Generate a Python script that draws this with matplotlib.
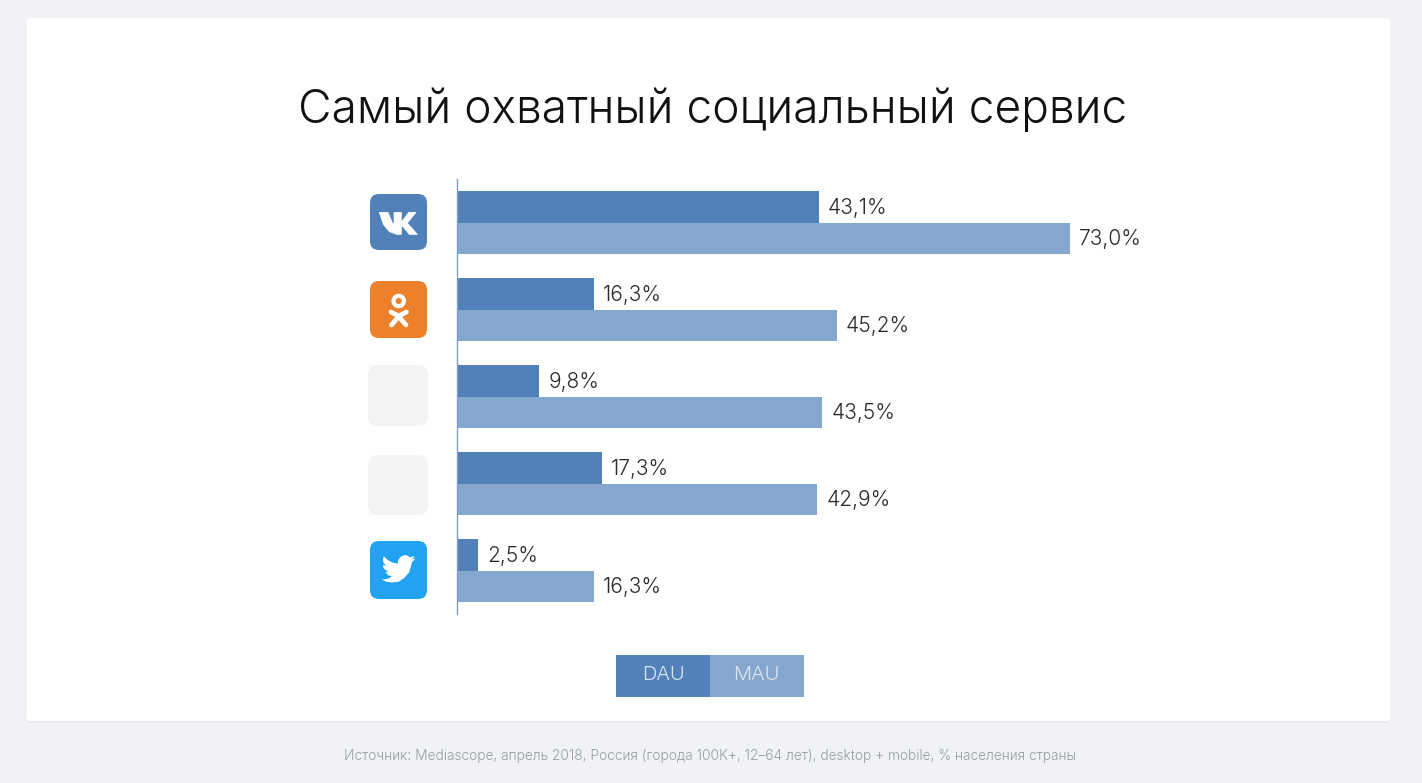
import numpy as np
from matplotlib import pyplot as plt
from matplotlib.patches import FancyBboxPatch, Polygon, Circle, Rectangle

# Data
services = ["VK", "OK", "Instagram", "YouTube", "Twitter"]
dau = [43.1, 16.3, 9.8, 17.3, 2.5]
mau = [73.0, 45.2, 43.5, 42.9, 16.3]
dau_labels = ["43,1%", "16,3%", "9,8%", "17,3%", "2,5%"]
mau_labels = ["73,0%", "45,2%", "43,5%", "42,9%", "16,3%"]

title = "Самый охватный социальный сервис"
source = "Источник: Mediascope, апрель 2018, Россия (города 100K+, 12–64 лет), desktop + mobile, % населения страны"

W, H = 1422, 783
DAU_COLOR = "#5181b8"
MAU_COLOR = "#85a6cd"

plt.rcParams['font.family'] = ['Inter', 'DejaVu Sans']
plt.rcParams['font.weight'] = 300

fig = plt.figure(figsize=(W / 100, H / 100), dpi=100, facecolor="#f0f2f5")

# Background layer in pixel coordinates
bg = fig.add_axes([0, 0, 1, 1])
bg.set_xlim(0, W)
bg.set_ylim(H, 0)
bg.axis("off")


def rounded(x0, y0, x1, y1, r, color, z=1, **kw):
    bg.add_patch(FancyBboxPatch((x0 + r, y0 + r), x1 - x0 - 2 * r, y1 - y0 - 2 * r,
                                boxstyle=f"round,pad={r},rounding_size={r}",
                                fc=color, ec="none", zorder=z, **kw))


# Card
rounded(27, 19, 1390, 723, 3, "#e9ebee", z=1)
rounded(27, 18, 1390, 721, 3, "white", z=2)

bg.text(712.5, 111, title, fontsize=33.2, color="#111111", ha="center", va="center", zorder=3)
bg.text(710, 756, source, fontsize=9.9, color="#9a9da1", ha="center", va="center", zorder=3)

# Icons
rounded(370, 194, 427, 250, 9, DAU_COLOR, z=3)
rounded(370, 281, 427, 338, 9, "#ed812b", z=3)
rounded(368, 365, 428, 426, 10, "#f3f3f3", z=3)
rounded(368, 455, 428, 515, 10, "#f3f3f3", z=3)
rounded(370, 541, 427, 599, 9, "#21a3f1", z=3)

vk = np.array([(88, 112), (114, 112), (128, 146), (132, 146), (132, 112), (154, 112), (154, 142),
               (176, 112), (198, 112), (172, 144), (202, 178), (178, 178), (158, 154), (154, 154),
               (154, 178), (140, 178), (118, 170), (100, 148)], dtype=float)
vk = vk / 3 + [350, 175]
bg.add_patch(Polygon(vk, closed=True, fc="white", ec="white", lw=0.5, joinstyle="round", zorder=4))

# OK glyph
bg.add_patch(Circle((398.7, 301), 5.2, fc="none", ec="white", lw=3, zorder=4))
bg.plot([391, 398.7, 406.5], [312, 316, 312], color="white", lw=3.4, solid_capstyle="round", zorder=4)
bg.plot([391.5, 398.7, 406], [325, 316.5, 325], color="white", lw=3.4, solid_capstyle="round", zorder=4)

# Twitter glyph
bird = np.array([(23.95, 4.57), (21.13, 5.35), (22.6, 4.2), (23.29, 2.62), (21.8, 3.35), (20.16, 3.81),
                 (18.5, 2.6), (16.6, 2.2), (14, 3.1), (12.1, 5.2), (11.6, 6.6), (11.78, 8.29),
                 (7.7, 7.6), (4.4, 5.8), (1.64, 3.16), (1.05, 4.3), (0.97, 5.64), (1.3, 7.8),
                 (3.16, 9.73), (2, 9.6), (0.93, 9.12), (0.93, 9.18), (1.3, 11.3), (2.8, 13),
                 (4.88, 14.0), (3.8, 14.2), (2.67, 14.09), (4.5, 16.6), (7.27, 17.51), (4.6, 19.1),
                 (1.17, 19.61), (0, 19.54), (3.5, 21.3), (7.56, 21.75), (12, 21.3), (16, 18.6),
                 (19.6, 14.6), (21.56, 7.77), (21.54, 7.14), (23, 6.0), (24, 4.59)])
bird = bird * 1.4 + [381.7, 552]
bg.add_patch(Polygon(bird, closed=True, fc="white", ec="none", zorder=4))

# Legend
bg.add_patch(Rectangle((616, 655), 94, 41.5, fc=DAU_COLOR, ec="none", zorder=3))
bg.add_patch(Rectangle((710, 655), 93.5, 41.5, fc=MAU_COLOR, ec="none", zorder=3))
bg.text(663.5, 675, "DAU", fontsize=14.5, color="#dbe5f1", ha="center", va="center", zorder=4)
bg.text(756.5, 675, "MAU", fontsize=14.5, color="#dbe5f1", ha="center", va="center", zorder=4)

# Bars
x0, x1, y0, y1 = 457, 1250, 179, 614
ax = fig.add_axes([x0 / W, 1 - y1 / H, (x1 - x0) / W, (y1 - y0) / H])
ax.patch.set_alpha(0)
ax.set_xlim(0, (x1 - x0) / 8.397)
ax.set_ylim(4.5, -0.5)

pos = np.arange(len(services))
bar_h = 0.357
ax.barh(pos - bar_h / 2, dau, height=bar_h, color=DAU_COLOR)
ax.barh(pos + bar_h / 2, mau, height=bar_h, color=MAU_COLOR)

for i in range(len(services)):
    ax.annotate(dau_labels[i], (dau[i], pos[i] - bar_h / 2), xytext=(6.5, -1), textcoords="offset points",
                va="center", fontsize=15, color="#2b2b2b")
    ax.annotate(mau_labels[i], (mau[i], pos[i] + bar_h / 2), xytext=(6.5, -1), textcoords="offset points",
                va="center", fontsize=15, color="#2b2b2b")

for s in ["top", "right", "bottom"]:
    ax.spines[s].set_visible(False)
ax.spines["left"].set_color("#7f9fcb")
ax.spines["left"].set_linewidth(1)
ax.set_xticks([])
ax.set_yticks([])

fig.savefig("out.png", dpi=100, facecolor=fig.get_facecolor())
